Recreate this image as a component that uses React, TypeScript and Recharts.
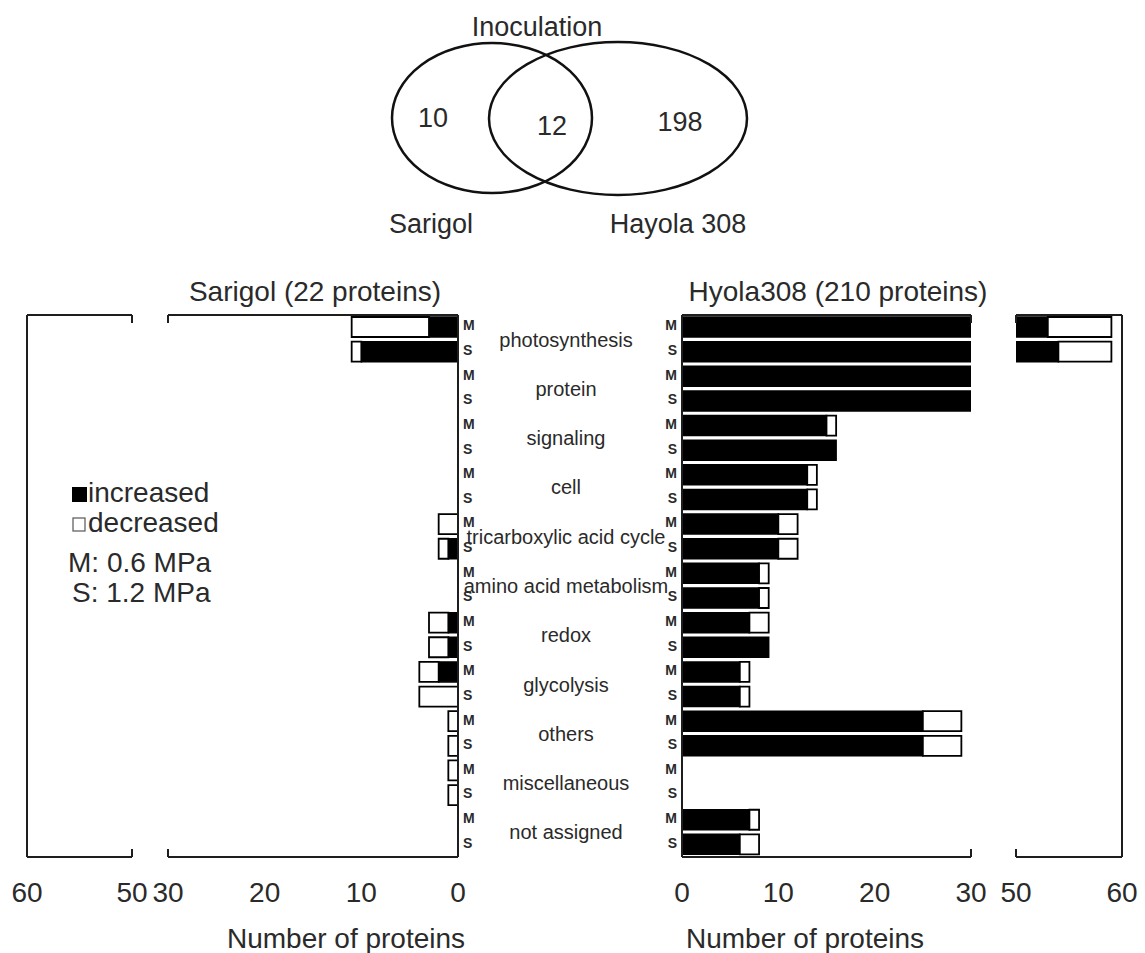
import React from 'react';
import { BarChart, Bar, XAxis, YAxis } from 'recharts';

// ---------- data ----------
const categories = [
  'photosynthesis',
  'protein',
  'signaling',
  'cell',
  'tricarboxylic acid cycle',
  'amino acid metabolism',
  'redox',
  'glycolysis',
  'others',
  'miscellaneous',
  'not assigned',
];
const levels = ['M', 'S'];

// values listed per category as [M, S]
const sarigolIncreased = [3, 10, 0, 0, 0, 0, 0, 0, 0, 1, 0, 0, 1, 1, 2, 0, 0, 0, 0, 0, 0, 0];
const sarigolDecreased = [8, 1, 0, 0, 0, 0, 0, 0, 2, 1, 0, 0, 2, 2, 2, 4, 1, 1, 1, 1, 0, 0];
const hyolaIncreased = [53, 54, 30, 30, 15, 16, 13, 13, 10, 10, 8, 8, 7, 9, 6, 6, 25, 25, 0, 0, 7, 6];
const hyolaDecreased = [6, 5, 0, 0, 1, 0, 1, 1, 2, 2, 1, 1, 2, 0, 1, 1, 4, 4, 0, 0, 1, 2];

const nearDomain = [0, 30];
const farDomain = [50, 60];
const nearTicks = [0, 10, 20, 30];
const farTicks = [50, 60];

const vennTitle = 'Inoculation';
const vennSets = ['Sarigol', 'Hayola 308'];
const vennCounts = [10, 12, 198]; // Sarigol only, shared, Hayola 308 only
const panelTitles = ['Sarigol (22 proteins)', 'Hyola308 (210 proteins)'];
const axisTitle = 'Number of proteins';
const legendItems = ['increased', 'decreased'];
const stressNotes = ['M: 0.6 MPa', 'S: 1.2 MPa'];

const rows = categories.flatMap((c, ci) =>
  levels.map((lv, li) => {
    const i = ci * 2 + li;
    return {
      key: `${c}|${lv}`,
      sInc: sarigolIncreased[i],
      sDec: sarigolDecreased[i],
      hInc: hyolaIncreased[i],
      hDec: hyolaDecreased[i],
    };
  })
);
const catRows = categories.map((name) => ({ name, zero: 0 }));

// ---------- style ----------
const FONT = "'Liberation Sans', Arial, Helvetica, sans-serif";
const INK = '#1e1e1e';
const TXT = '#2a2a2a';
const TOP = 300;
const CHART_H = 653;
const TOP_AXIS_H = 1;
const PLOT_TOP_MARGIN = 15 - TOP_AXIS_H;
const XAXIS_H = 96;
const STUB = 8;
const LINE = { stroke: INK, strokeWidth: 2 };

const makeBottomTick = (stubValue: number) => (props: any) => {
  const { x, y, payload } = props;
  return (
    <g>
      {payload.value === stubValue && (
        <line x1={x} x2={x} y1={y} y2={y - STUB} stroke={INK} strokeWidth={2} />
      )}
      <text x={x} y={y + 45} textAnchor="middle" fontSize={28} fontFamily={FONT} fill={TXT}>
        {payload.value}
      </text>
    </g>
  );
};

const makeTopTick = (stubValue: number) => (props: any) => {
  const { x, y, payload } = props;
  if (payload.value !== stubValue) return <g />;
  return <line x1={x} x2={x} y1={y} y2={y + STUB} stroke={INK} strokeWidth={2} />;
};

const LevelTick = (props: any) => {
  const { x, y, payload, textAnchor } = props;
  const lv = String(payload.value).split('|')[1];
  return (
    <text x={x} y={y} dy={3} textAnchor={textAnchor} fontSize={14} fontWeight="bold" fontFamily={FONT} fill={TXT}>
      {lv}
    </text>
  );
};

const CAT_CENTER = 126;
const CatTick = (props: any) => {
  const { y, payload } = props;
  return (
    <text x={CAT_CENTER} y={y} dy={7} textAnchor="middle" fontSize={20} fontFamily={FONT} fill={TXT}>
      {payload.value}
    </text>
  );
};

type PanelCfg = {
  left: number;
  width: number;
  plotLeft: number;
  plotRight: number;
  domain: number[];
  ticks: number[];
  reversed: boolean;
  incKey: string;
  decKey: string;
  stubValue: number;
  ySide: 'left' | 'right';
  showLevels: boolean;
};

function Panel(cfg: PanelCfg) {
  const yW = cfg.showLevels ? 30 : 1;
  const right = cfg.left + cfg.width - cfg.plotRight;
  const margin =
    cfg.ySide === 'left'
      ? { top: PLOT_TOP_MARGIN, bottom: 0, left: cfg.plotLeft - cfg.left - yW, right }
      : { top: PLOT_TOP_MARGIN, bottom: 0, left: cfg.plotLeft - cfg.left, right: right - yW };
  return (
    <div style={{ position: 'absolute', left: cfg.left, top: TOP }}>
      <BarChart width={cfg.width} height={CHART_H} data={rows} layout="vertical" margin={margin} barCategoryGap={0}>
        <XAxis
          type="number"
          domain={cfg.domain}
          ticks={cfg.ticks}
          reversed={cfg.reversed}
          allowDataOverflow
          height={XAXIS_H}
          interval={0}
          tickSize={0}
          tickMargin={0}
          tickLine={false}
          axisLine={LINE}
          tick={makeBottomTick(cfg.stubValue)}
        />
        <XAxis
          xAxisId="top"
          orientation="top"
          type="number"
          domain={cfg.domain}
          ticks={[cfg.stubValue]}
          reversed={cfg.reversed}
          allowDataOverflow
          height={TOP_AXIS_H}
          interval={0}
          tickSize={0}
          tickMargin={0}
          tickLine={false}
          axisLine={LINE}
          tick={makeTopTick(cfg.stubValue)}
        />
        <YAxis
          type="category"
          dataKey="key"
          orientation={cfg.ySide}
          width={yW}
          interval={0}
          tickLine={false}
          tickSize={0}
          tickMargin={5}
          axisLine={LINE}
          tick={cfg.showLevels ? LevelTick : false}
        />
        <Bar dataKey={cfg.incKey} stackId="a" fill="#000" stroke="#000" strokeWidth={1.5} barSize={20} isAnimationActive={false} />
        <Bar dataKey={cfg.decKey} stackId="a" fill="#fff" stroke="#000" strokeWidth={1.8} barSize={20} isAnimationActive={false} />
      </BarChart>
    </div>
  );
}

function Overlay() {
  const t = { fontFamily: FONT, fill: TXT };
  return (
    <svg width={1145} height={953} style={{ position: 'absolute', left: 0, top: 0, pointerEvents: 'none' }}>
      {/* Venn diagram */}
      <ellipse cx={492} cy={118} rx={100} ry={75} fill="none" stroke="#111" strokeWidth={2.5} />
      <ellipse cx={618} cy={118.5} rx={129} ry={76.5} fill="none" stroke="#111" strokeWidth={2.5} />
      <text x={537} y={36} textAnchor="middle" fontSize={27} {...t}>{vennTitle}</text>
      <text x={431} y={233} textAnchor="middle" fontSize={27} {...t}>{vennSets[0]}</text>
      <text x={678} y={233} textAnchor="middle" fontSize={27} {...t}>{vennSets[1]}</text>
      <text x={433} y={127} textAnchor="middle" fontSize={27} {...t}>{vennCounts[0]}</text>
      <text x={552} y={135} textAnchor="middle" fontSize={27} {...t}>{vennCounts[1]}</text>
      <text x={680} y={131} textAnchor="middle" fontSize={27} {...t}>{vennCounts[2]}</text>

      {/* panel titles */}
      <text x={315} y={301} textAnchor="middle" fontSize={28} {...t}>{panelTitles[0]}</text>
      <text x={838} y={301} textAnchor="middle" fontSize={28} {...t}>{panelTitles[1]}</text>

      {/* axis titles */}
      <text x={346} y={948} textAnchor="middle" fontSize={28} {...t}>{axisTitle}</text>
      <text x={805} y={948} textAnchor="middle" fontSize={28} {...t}>{axisTitle}</text>

      {/* legend */}
      <rect x={72} y={487} width={15} height={15} fill="#000" />
      <text x={88} y={502} fontSize={28} {...t}>{legendItems[0]}</text>
      <rect x={73} y={518} width={12} height={13} fill="#fff" stroke="#555" strokeWidth={1.2} />
      <text x={88} y={532} fontSize={28} {...t}>{legendItems[1]}</text>
      <text x={68} y={572} fontSize={28} {...t}>{stressNotes[0]}</text>
      <text x={72} y={602} fontSize={28} {...t}>{stressNotes[1]}</text>
    </svg>
  );
}

export default function App() {
  return (
    <div style={{ position: 'absolute', left: 0, top: 0, width: 1145, height: 953, background: '#fff', overflow: 'hidden' }}>
      <Panel left={0} width={155} plotLeft={27} plotRight={132} domain={farDomain} ticks={farTicks} reversed incKey="sInc" decKey="sDec" stubValue={50} ySide="left" showLevels={false} />
      <Panel left={135} width={355} plotLeft={168} plotRight={458} domain={nearDomain} ticks={nearTicks} reversed incKey="sInc" decKey="sDec" stubValue={30} ySide="right" showLevels />
      <div style={{ position: 'absolute', left: 440, top: TOP }}>
        <BarChart width={260} height={CHART_H} data={catRows} layout="vertical" margin={{ top: 15, bottom: XAXIS_H, left: 0, right: 0 }}>
          <XAxis type="number" hide domain={[0, 1]} />
          <YAxis type="category" dataKey="name" width={1} axisLine={false} tickLine={false} interval={0} tick={CatTick} />
          <Bar dataKey="zero" fill="none" isAnimationActive={false} />
        </BarChart>
      </div>
      <Panel left={650} width={340} plotLeft={682} plotRight={971} domain={nearDomain} ticks={nearTicks} reversed={false} incKey="hInc" decKey="hDec" stubValue={30} ySide="left" showLevels />
      <Panel left={990} width={155} plotLeft={1016} plotRight={1122} domain={farDomain} ticks={farTicks} reversed={false} incKey="hInc" decKey="hDec" stubValue={50} ySide="right" showLevels={false} />
      <Overlay />
    </div>
  );
}
